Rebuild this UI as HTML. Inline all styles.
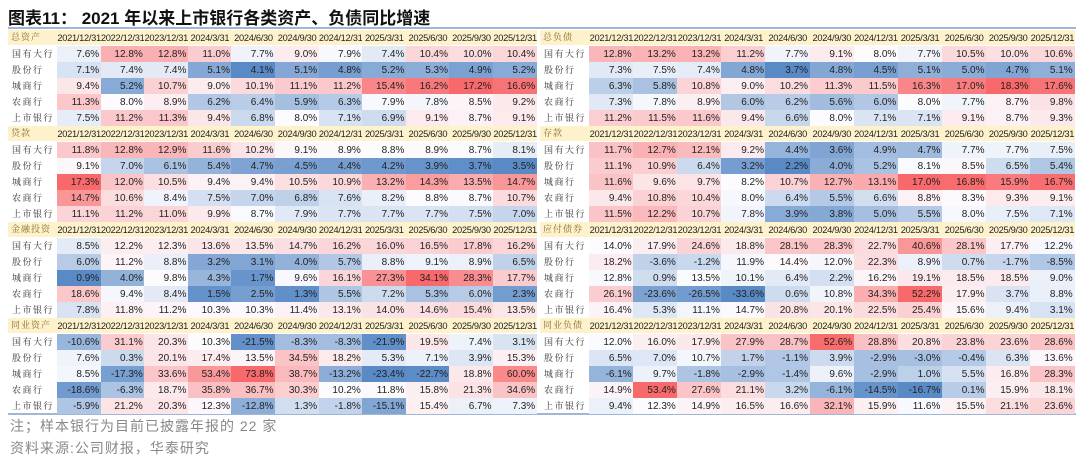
<!DOCTYPE html>
<html><head><meta charset="utf-8">
<style>
body{margin:0;width:1080px;height:462px;background:#fff;position:relative;overflow:hidden;font-family:"Liberation Sans","Noto Sans CJK SC",sans-serif;}
#title{position:absolute;left:8px;top:4px;font-size:17px;font-weight:bold;color:#111;white-space:nowrap;}
.hl{position:absolute;left:8px;width:1068px;height:2px;background:#9fb6d8;}
.c{position:absolute;height:16px;line-height:17px;font-size:10px;color:#222;text-align:right;box-sizing:border-box;padding-right:2px;white-space:nowrap;}
.h{position:absolute;height:15px;line-height:16px;font-size:9.3px;letter-spacing:-0.3px;color:#222;text-align:center;background:#fef2cc;white-space:nowrap;overflow:hidden;}
.lb{position:absolute;height:16px;line-height:16px;font-size:9px;color:#333;letter-spacing:1.5px;font-family:"Liberation Serif","Noto Serif CJK SC",serif;padding-left:4px;width:49px;overflow:hidden;white-space:nowrap;box-sizing:border-box;}
.hlb{position:absolute;height:15px;line-height:15px;font-size:9px;color:#8a6d2a;letter-spacing:1px;font-family:"Liberation Serif","Noto Serif CJK SC",serif;padding-left:3px;background:#fef2cc;overflow:hidden;white-space:nowrap;box-sizing:border-box;}
.note{position:absolute;left:10px;font-size:14px;color:#888;font-family:"Liberation Sans","Noto Sans CJK SC",sans-serif;letter-spacing:1px;}
</style></head><body>
<div id="title">图表11：  2021 年以来上市银行各类资产、负债同比增速</div>
<div class="hl" style="top:27px"></div>
<div class="hl" style="top:413px"></div>
<div id="tbl"></div>
<div class="note" style="top:416px">注；样本银行为目前已披露年报的 22 家</div>
<div class="note" style="top:438px">资料来源:公司财报，华泰研究</div>
<script>
const dates=["2021/12/31","2022/12/31","2023/12/31","2024/3/31","2024/6/30","2024/9/30","2024/12/31","2025/3/31","2025/6/30","2025/9/30","2025/12/31"];
const banks=["国有大行","股份行","城商行","农商行","上市银行"];
const blockTitles=["总资产","总负债","贷款","存款","金融投资","应付债券","同业资产","同业负债"];
const totalAssets=[[7.6,12.8,12.8,11.0,7.7,9.0,7.9,7.4,10.4,10.0,10.4],[7.1,7.4,7.4,5.1,4.1,5.1,4.8,5.2,5.3,4.9,5.2],[9.4,5.2,10.7,9.0,10.1,11.1,11.2,15.4,16.2,17.2,16.6],[11.3,8.0,8.9,6.2,6.4,5.9,6.3,7.9,7.8,8.5,9.2],[7.5,11.2,11.3,9.4,6.8,8.0,7.1,6.9,9.1,8.7,9.1]];
const totalLiab=[[12.8,13.2,13.2,11.2,7.7,9.1,8.0,7.7,10.5,10.0,10.6],[7.3,7.5,7.4,4.8,3.7,4.8,4.5,5.1,5.0,4.7,5.1],[6.3,5.8,10.8,9.0,10.2,11.3,11.5,16.3,17.0,18.3,17.6],[7.3,7.8,8.9,6.0,6.2,5.6,6.0,8.0,7.7,8.7,9.8],[11.2,11.5,11.6,9.4,6.6,8.0,7.1,7.1,9.1,8.7,9.3]];
const loans=[[11.8,12.8,12.9,11.6,10.2,9.1,8.9,8.8,8.9,8.7,8.1],[9.1,7.0,6.1,5.4,4.7,4.5,4.4,4.2,3.9,3.7,3.5],[17.3,12.0,10.5,9.4,9.4,10.5,10.9,13.2,14.3,13.5,14.7],[14.7,10.6,8.4,7.5,7.0,6.8,7.6,8.2,8.8,8.7,10.7],[11.1,11.2,11.0,9.9,8.7,7.9,7.7,7.7,7.7,7.5,7.0]];
const deposits=[[11.7,12.7,12.1,9.2,4.4,3.6,4.9,4.7,7.7,7.7,7.5],[11.1,10.9,6.4,3.2,2.2,4.0,5.2,8.1,8.5,6.5,5.4],[11.6,9.6,9.7,8.2,10.7,12.7,13.1,17.0,16.8,15.9,16.7],[9.4,10.8,10.4,8.0,6.4,5.5,6.6,8.8,8.3,9.3,9.1],[11.5,12.2,10.7,7.8,3.9,3.8,5.0,5.5,8.0,7.5,7.1]];
const investments=[[8.5,12.2,12.3,13.6,13.5,14.7,16.2,16.0,16.5,17.8,16.2],[6.0,11.2,8.8,3.2,3.1,4.0,5.7,8.8,9.1,8.9,6.5],[0.9,4.0,9.8,4.3,1.7,9.6,16.1,27.3,34.1,28.3,17.7],[18.6,9.4,8.4,1.5,2.5,1.3,5.5,7.2,5.3,6.0,2.3],[7.8,11.8,11.2,10.3,10.3,11.4,13.1,14.0,14.6,15.4,13.5]];
const bonds=[[14.0,17.9,24.6,18.8,28.1,28.3,22.7,40.6,28.1,17.7,12.2],[18.2,-3.6,-1.2,11.9,14.4,12.0,22.3,8.9,0.7,-1.7,-8.5],[12.8,0.9,13.5,10.1,6.4,2.2,16.2,19.1,18.5,18.5,9.0],[26.1,-23.6,-26.5,-33.6,0.6,10.8,34.3,52.2,17.9,3.7,8.8],[16.4,5.3,11.1,14.7,20.8,20.1,22.5,25.4,15.6,9.4,3.1]];
const ibAssets=[[-10.6,31.1,20.3,10.3,-21.5,-8.3,-8.3,-21.9,19.5,7.4,3.1],[7.6,0.3,20.1,17.4,13.5,34.5,18.2,5.3,7.1,3.9,15.3],[8.5,-17.3,33.6,53.4,73.8,38.7,-13.2,-23.4,-22.7,18.8,60.0],[-18.6,-6.3,18.7,35.8,36.7,30.3,10.2,11.8,15.8,21.3,34.6],[-5.9,21.2,20.3,12.3,-12.8,1.3,-1.8,-15.1,15.4,6.7,7.3]];
const ibLiab=[[12.0,16.0,17.9,27.9,28.7,52.6,28.8,20.8,23.8,23.6,28.6],[6.5,7.0,10.7,1.7,-1.1,3.9,-2.9,-3.0,-0.4,6.3,13.6],[-6.1,9.7,-1.8,-2.9,-1.4,9.6,-2.9,1.0,5.5,16.8,28.3],[14.9,53.4,27.6,21.1,3.2,-6.1,-14.5,-16.7,0.1,15.9,18.1],[9.4,12.3,14.9,16.5,16.6,32.1,15.9,11.6,15.5,21.1,23.6]];
const blocks=[totalAssets,totalLiab,loans,deposits,investments,bonds,ibAssets,ibLiab];

const tbl=document.getElementById('tbl');
function lerp(a,b,t){return a.map((v,i)=>Math.round(v+(b[i]-v)*t));}
const BLUE=[90,138,198],WHITE=[252,252,255],RED=[248,105,107];
function colorFor(v,mn,md,mx){
  let c;
  if(v<=md){c=lerp(BLUE,WHITE,md===mn?1:(v-mn)/(md-mn));}
  else{c=lerp(WHITE,RED,mx===md?0:(v-md)/(mx-md));}
  return 'rgb('+c.join(',')+')';
}
function colX(side,i){return side===0?57+i*43.6:589+i*44.1;}
function colW(side){return side===0?43.6:44.1;}
blocks.forEach((data,b)=>{
  const side=b%2, row=Math.floor(b/2);
  const top=30+row*96;
  const lx=side===0?8:540;
  const flat=data.flat().slice().sort((a,c)=>a-c);
  const mn=flat[0],mx=flat[flat.length-1];
  const md=flat[27];
  const hl=document.createElement('div');
  hl.className='hlb';
  hl.style.left=lx+'px';hl.style.top=top+'px';hl.style.width='49px';
  hl.textContent=blockTitles[b];
  
  
  tbl.appendChild(hl);
  dates.forEach((d,i)=>{
    const h=document.createElement('div');
    h.className='h';
    h.style.left=(colX(side,i))+'px';h.style.top=top+'px';h.style.width=(colW(side)+0.6)+'px';
    h.textContent=d;
    
    
    tbl.appendChild(h);
  });
  data.forEach((vals,r)=>{
    const y=top+16+r*16;
    const l=document.createElement('div');
    l.className='lb';
    l.style.left=lx+'px';l.style.top=y+'px';
    l.textContent=banks[r];
    
    
    tbl.appendChild(l);
    vals.forEach((v,i)=>{
      const c=document.createElement('div');
      c.className='c';
      c.style.left=colX(side,i)+'px';c.style.top=y+'px';c.style.width=(colW(side)+0.6)+'px';
      c.style.background=colorFor(v,mn,md,mx);
      c.textContent=v.toFixed(1)+'%';
      
      
      tbl.appendChild(c);
    });
  });
});
</script>
</body></html>
